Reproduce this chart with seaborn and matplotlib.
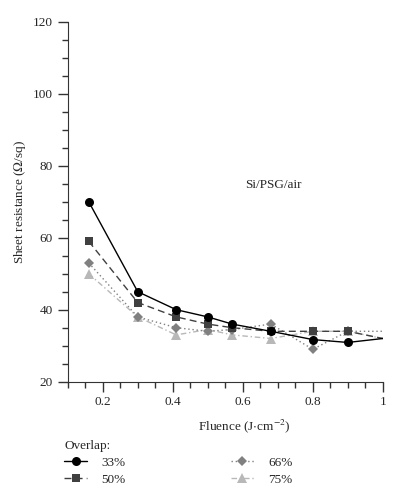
import numpy as np
import pandas as pd
import seaborn as sns
import matplotlib
matplotlib.use("Agg")
import matplotlib.pyplot as plt
from matplotlib.ticker import MultipleLocator

sns.set_style("ticks")
plt.rcParams['font.family'] = ['Liberation Serif', 'DejaVu Serif']
plt.rcParams['mathtext.fontset'] = 'stix'

# fluence (J/cm^2) and sheet resistance (ohm/sq) per overlap
fluence = [0.16, 0.30, 0.41, 0.50, 0.57, 0.68, 0.80, 0.90, 1.00]
r_33 = [70, 45, 40, 38, 36, 34, 31.7, 30.9, 32]
r_50 = [59, 42, 38, 36, 35, 34, 34, 34, 32]
r_66 = [53, 38, 35, 34, 34.5, 36, 29, 34, 34]
r_75 = [50, 38, 33, 34.5, 33, 32, 34, 34, 32]
overlaps = ["33%", "50%", "66%", "75%"]

colors = ["#000000", "#404040", "#808080", "#b8b8b8"]
styles = ["-", (0, (5, 3)), (0, (1, 2)), (0, (4, 2, 1, 2))]
markers = ["o", "s", "D", "^"]
msizes = [6.5, 6.2, 5, 6.5]

fig = plt.figure(figsize=(4.03, 5.0), dpi=100)
ax = fig.add_axes([0.168, 0.2366, 0.782, 0.72])

for i, (lab, vals) in enumerate(zip(overlaps, [r_33, r_50, r_66, r_75])):
    df = pd.DataFrame({"fluence": fluence, "res": vals})
    sns.lineplot(data=df, x="fluence", y="res", ax=ax, color=colors[i],
                 linestyle=styles[i], marker=markers[i], markersize=msizes[i],
                 markeredgewidth=0, linewidth=1.0, label=lab,
                 markevery=slice(0, len(fluence) - 1), zorder=10 - i)

ax.set_xlim(0.1, 1.0)
ax.set_ylim(20, 120)
ax.xaxis.set_major_locator(MultipleLocator(0.2))
ax.xaxis.set_minor_locator(MultipleLocator(0.05))
ax.yaxis.set_major_locator(MultipleLocator(20))
ax.yaxis.set_minor_locator(MultipleLocator(5))
ax.set_xticks([0.2, 0.4, 0.6, 0.8, 1.0])
ax.set_xticklabels(["0.2", "0.4", "0.6", "0.8", "1"])
ax.tick_params(which="major", length=7, width=1, labelsize=9.5, color="#333333")
ax.tick_params(which="minor", length=4, width=1, color="#333333")
sns.despine(ax=ax)
for s in ["left", "bottom"]:
    ax.spines[s].set_color("#333333")

ax.set_xlabel("Fluence (J$\\cdot$cm$^{-2}$)", fontsize=9.5)
ax.set_ylabel("Sheet resistance ($\\Omega$/sq)", fontsize=9.5)
ax.xaxis.set_label_coords(0.56, -0.1)
ax.yaxis.set_label_coords(-0.125, 0.5)
ax.text(0.687, 74.6, "Si/PSG/air", fontsize=9.5, ha="center", va="center")

h, l = ax.get_legend_handles_labels()
ax.get_legend().remove()
leg = fig.legend(h, l, ncol=2, title="Overlap:", loc="upper left",
                 bbox_to_anchor=(0.16, 0.12), frameon=False, fontsize=9.5,
                 title_fontsize=9.5, alignment="left", columnspacing=8,
                 handlelength=1.7, handletextpad=1.1, labelspacing=0.35,
                 borderpad=0, borderaxespad=0)

fig.savefig("out.png", dpi=100)
